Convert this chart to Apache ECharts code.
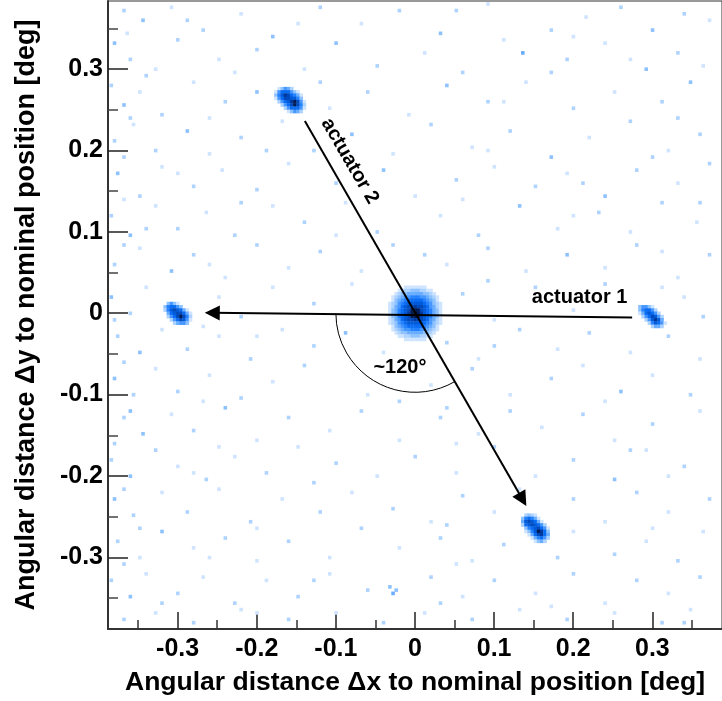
<!DOCTYPE html>
<html><head><meta charset="utf-8">
<script src="https://cdn.jsdelivr.net/npm/echarts@6/dist/echarts.min.js"></script>
<style>html,body{margin:0;padding:0;background:#fff}#c{width:722px;height:701px}</style>
</head><body><div id="c"></div>
<script>
// ---------- data ----------
const BIN = 0.004;                       // histogram bin width [deg]
const X_RANGE = [-0.388, 0.388];
const Y_RANGE = [-0.388, 0.3835];
const xMajorTicks = [-0.3, -0.2, -0.1, 0, 0.1, 0.2, 0.3];
const xMinorTicks = [-0.35, -0.25, -0.15, -0.05, 0.05, 0.15, 0.25, 0.35];
const yMajorTicks = [-0.3, -0.2, -0.1, 0, 0.1, 0.2, 0.3];
const yMinorTicks = [-0.35, -0.25, -0.15, -0.05, 0.05, 0.15, 0.25, 0.35];
const xTitle = 'Angular distance \u0394x to nominal position [deg]';
const yTitle = 'Angular distance \u0394y to nominal position [deg]';

// central (nominal) spot: counts, top-left cell at bin (-8, +8)
const centralOrigin = [-8, 8];
const centralSpot = [
  [0,0,0,0,0,1,1,1,1,1,1,1,0,0,0,0,0],
  [0,0,0,1,1,2,2,3,3,3,2,2,1,1,0,0,0],
  [0,0,1,2,3,4,5,6,7,6,5,4,3,2,1,0,0],
  [0,1,2,3,5,8,11,14,16,14,11,8,5,3,2,1,0],
  [0,1,3,5,10,16,23,28,30,28,23,16,10,5,3,1,0],
  [1,2,4,8,16,27,37,45,48,45,37,27,16,8,4,2,1],
  [1,2,5,11,23,37,52,65,70,65,52,37,23,11,5,2,1],
  [1,3,6,14,28,45,65,84,90,84,65,45,28,14,6,3,1],
  [1,3,7,16,30,48,70,90,100,90,70,48,30,16,7,3,1],
  [1,3,6,14,28,45,65,84,90,84,65,45,28,14,6,3,1],
  [1,2,5,11,23,37,52,65,70,65,52,37,23,11,5,2,1],
  [1,2,4,8,16,27,37,45,48,45,37,27,16,8,4,2,1],
  [0,1,3,5,10,16,23,28,30,28,23,16,10,5,3,1,0],
  [0,1,2,3,5,8,11,14,16,14,11,8,5,3,2,1,0],
  [0,0,1,2,3,4,5,6,7,6,5,4,3,2,1,0,0],
  [0,0,0,1,1,2,2,3,3,3,2,2,1,1,0,0,0],
  [0,0,0,0,0,1,1,1,1,1,1,1,0,0,0,0,0]
];

// left spot (~ -0.3, 0): top-left cell at bin (-79, +3)
const spotLeftOrigin = [-79, 3];
const spotLeft = [
  [0,4,8,4,1,0,0,0,0],
  [3,18,35,30,12,3,0,0,0],
  [2,18,42,55,45,22,5,1,0],
  [0,5,25,48,65,62,30,6,1],
  [0,2,10,30,62,88,55,14,2],
  [0,0,2,10,32,58,45,12,1],
  [0,0,0,2,6,12,10,3,0]
];
// right spot (~ 0.3, -0.005): top-left cell at bin (71, +2)
const spotRightOrigin = [71, 2];
const spotRight = [
  [4,12,8,3,1,0,0,0,0],
  [3,20,35,22,8,2,0,0,0],
  [1,6,26,42,32,12,2,0,0],
  [0,2,8,30,52,42,12,2,0],
  [0,0,2,10,42,72,38,6,0],
  [0,0,0,2,14,42,30,8,1],
  [0,0,0,0,2,6,6,2,0]
];
// upper spot (~ -0.16, 0.26): top-left cell at bin (-44, 69)
const spotUpperOrigin = [-44, 69];
const spotUpper = [
  [0,1,4,8,6,2,0,0,0,0],
  [1,8,25,35,28,12,4,1,0,0],
  [3,20,45,70,55,30,15,5,1,0],
  [1,10,35,55,60,50,38,18,4,0],
  [0,2,10,28,48,70,88,55,12,1],
  [0,0,2,10,28,55,85,60,15,2],
  [0,0,0,2,8,22,35,28,8,1],
  [0,0,0,0,1,4,8,5,2,0]
];
// lower spot (~ 0.155, -0.265): top-left cell at bin (34, -62)
const spotLowerOrigin = [34, -62];
const spotLower = [
  [0,2,4,2,1,0,0,0,0,0],
  [3,18,30,16,5,1,0,0,0,0],
  [6,40,60,45,22,6,1,0,0,0],
  [2,22,45,52,40,25,8,2,0,0],
  [0,4,15,35,50,58,35,10,1,0],
  [0,1,4,15,40,85,75,25,4,0],
  [0,0,1,5,22,65,70,30,5,0],
  [0,0,0,1,5,18,22,12,2,0],
  [0,0,0,0,1,3,5,2,0,0]
];

// sparse background cells [x, y, counts]
const noiseCells = [
  [-0.37,0.372,2],[-0.345,0.36,3],[-0.31,0.375,1],[-0.27,0.35,2],[-0.22,0.368,1],[-0.18,0.34,3],[-0.12,0.377,2],[-0.07,0.355,1],[-0.02,0.37,2],[0.03,0.345,3],[0.09,0.38,1],[0.17,0.35,2],[0.215,0.362,1],[0.26,0.375,2],[0.3,0.35,4],[0.34,0.367,2],[0.37,0.358,1],
  [-0.38,0.33,3],[-0.36,0.31,2],[-0.33,0.298,1],[-0.3,0.335,2],[-0.25,0.31,1],[-0.2,0.325,2],[-0.14,0.3,1],[-0.1,0.33,3],[-0.05,0.305,2],[0.01,0.32,1],[0.06,0.295,2],[0.11,0.335,1],[0.136,0.32,7],[0.19,0.31,2],[0.24,0.33,1],[0.29,0.3,3],[0.33,0.32,2],[0.365,0.305,1],
  [-0.385,0.28,2],[-0.37,0.255,3],[-0.35,0.27,1],[-0.32,0.245,2],[-0.28,0.285,1],[-0.24,0.26,2],[-0.2,0.27,3],[-0.12,0.283,2],[-0.11,0.25,1],[-0.06,0.27,2],[-0.01,0.245,1],[0.04,0.28,3],[0.09,0.26,2],[0.14,0.285,1],[0.2,0.25,2],[0.25,0.27,1],[0.31,0.26,2],[0.35,0.285,3],
  [-0.38,0.21,2],[-0.355,0.23,1],[-0.33,0.2,2],[-0.29,0.225,3],[-0.26,0.195,1],[-0.22,0.215,2],[-0.17,0.235,1],[-0.13,0.2,2],[-0.08,0.22,3],[-0.03,0.195,1],[0.02,0.23,2],[0.07,0.205,1],[0.12,0.225,2],[0.17,0.19,3],[0.22,0.215,1],[0.27,0.235,2],[0.32,0.2,1],[0.36,0.22,2],
  [-0.375,0.17,3],[-0.35,0.145,2],[-0.32,0.18,1],[-0.28,0.155,2],[-0.245,0.175,1],[-0.2,0.15,2],[-0.16,0.185,1],[-0.1,0.16,2],[-0.04,0.175,3],[0.0,0.145,1],[0.05,0.165,2],[0.1,0.18,1],[0.15,0.155,2],[0.19,0.17,1],[0.24,0.145,3],[0.28,0.175,2],[0.33,0.16,1],[0.37,0.185,2],
  [-0.385,0.12,2],[-0.36,0.095,3],[-0.33,0.13,1],[-0.3,0.105,2],[-0.265,0.125,1],[-0.23,0.095,2],[-0.18,0.13,1],[-0.14,0.11,2],[-0.09,0.135,1],[-0.05,0.1,2],[0.03,0.12,1],[0.08,0.095,2],[0.13,0.13,3],[0.18,0.105,1],[0.23,0.125,2],[0.27,0.1,1],[0.31,0.135,2],[0.355,0.11,1],
  [-0.38,0.06,2],[-0.35,0.08,1],[-0.31,0.05,3],[-0.28,0.07,2],[-0.24,0.045,1],[-0.2,0.085,2],[-0.16,0.055,1],[-0.12,0.075,2],[-0.07,0.05,1],[-0.03,0.085,2],[0.04,0.06,1],[0.09,0.08,2],[0.14,0.05,1],[0.19,0.07,3],[0.24,0.055,1],[0.28,0.085,2],[0.33,0.045,1],[0.37,0.07,2],
  [-0.385,0.02,3],[-0.36,0.0,2],[-0.34,0.03,1],[-0.25,0.02,1],[-0.22,-0.005,2],[-0.18,0.03,1],[-0.13,0.01,2],[-0.08,0.035,1],[0.06,0.025,2],[0.1,-0.008,1],[0.15,0.03,2],[0.2,0.005,1],[0.24,0.035,2],[0.34,0.02,1],[0.365,-0.005,2],
  [-0.375,-0.03,2],[-0.35,-0.05,3],[-0.32,-0.02,1],[-0.29,-0.045,2],[-0.25,-0.03,1],[-0.21,-0.055,2],[-0.17,-0.02,1],[-0.13,-0.04,2],[-0.09,-0.025,3],[-0.04,-0.05,1],[0.04,-0.035,2],[0.08,-0.055,1],[0.13,-0.02,2],[0.18,-0.045,1],[0.22,-0.025,2],[0.27,-0.05,1],[0.32,-0.03,2],[0.36,-0.055,1],
  [-0.38,-0.08,3],[-0.355,-0.1,2],[-0.33,-0.07,1],[-0.3,-0.095,2],[-0.26,-0.075,1],[-0.22,-0.105,2],[-0.18,-0.085,1],[-0.14,-0.065,2],[-0.06,-0.1,1],[-0.02,-0.11,2],[0.02,-0.09,1],[0.07,-0.07,2],[0.12,-0.1,1],[0.17,-0.08,2],[0.21,-0.065,1],[0.26,-0.095,3],[0.3,-0.075,1],[0.35,-0.1,2],
  [-0.37,-0.13,2],[-0.345,-0.15,4],[-0.31,-0.125,1],[-0.28,-0.145,2],[-0.24,-0.115,3],[-0.2,-0.155,1],[-0.16,-0.13,2],[-0.11,-0.145,1],[-0.07,-0.12,2],[-0.02,-0.155,1],[0.03,-0.13,2],[0.08,-0.15,1],[0.12,-0.12,2],[0.16,-0.14,1],[0.21,-0.125,2],[0.25,-0.155,1],[0.3,-0.135,2],[0.36,-0.12,1],
  [-0.385,-0.18,2],[-0.36,-0.2,3],[-0.33,-0.17,2],[-0.3,-0.19,1],[-0.265,-0.205,2],[-0.23,-0.175,1],[-0.19,-0.195,2],[-0.15,-0.165,1],[-0.1,-0.185,2],[-0.05,-0.2,1],[0.0,-0.175,2],[0.05,-0.195,1],[0.1,-0.165,2],[0.15,-0.2,1],[0.2,-0.18,2],[0.25,-0.205,3],[0.29,-0.17,1],[0.34,-0.19,2],
  [-0.38,-0.23,4],[-0.355,-0.25,2],[-0.32,-0.22,1],[-0.29,-0.245,2],[-0.25,-0.215,1],[-0.21,-0.255,2],[-0.17,-0.23,1],[-0.12,-0.245,2],[-0.08,-0.22,1],[-0.03,-0.24,2],[0.02,-0.255,1],[0.06,-0.225,2],[0.1,-0.245,1],[0.2,-0.23,2],[0.24,-0.255,1],[0.28,-0.22,2],[0.32,-0.245,1],[0.37,-0.23,2],
  [-0.375,-0.28,2],[-0.35,-0.3,1],[-0.32,-0.27,3],[-0.28,-0.29,1],[-0.24,-0.275,2],[-0.2,-0.305,1],[-0.16,-0.28,2],[-0.11,-0.3,1],[-0.07,-0.265,2],[-0.02,-0.29,1],[0.03,-0.275,2],[0.07,-0.305,1],[0.11,-0.285,2],[0.2,-0.27,1],[0.25,-0.295,2],[0.29,-0.28,1],[0.33,-0.305,2],[0.365,-0.27,1],
  [-0.385,-0.33,2],[-0.36,-0.35,3],[-0.34,-0.32,1],[-0.3,-0.345,2],[-0.27,-0.325,1],[-0.23,-0.355,2],[-0.19,-0.33,1],[-0.15,-0.35,2],[-0.11,-0.32,1],[-0.06,-0.34,2],[-0.032,-0.336,4],[-0.028,-0.344,5],[-0.024,-0.34,3],[0.02,-0.325,2],[0.06,-0.35,1],[0.1,-0.33,2],[0.15,-0.345,1],[0.2,-0.32,2],[0.24,-0.355,1],[0.28,-0.33,2],[0.32,-0.345,1],[0.36,-0.325,2],
  [-0.37,-0.375,2],[-0.33,-0.37,1],[-0.28,-0.38,2],[-0.22,-0.365,1],[-0.16,-0.378,2],[-0.1,-0.37,1],[-0.04,-0.38,2],[0.01,-0.368,1],[0.07,-0.378,2],[0.13,-0.365,1],[0.19,-0.375,2],[0.25,-0.37,1],[0.31,-0.38,2],[0.35,-0.366,1],
  [-0.365,0.345,1],[-0.29,0.36,2],[-0.15,0.355,1],[0.05,0.372,2],[0.2,0.34,1],[-0.34,0.29,2],[-0.23,0.295,1],[0.17,0.295,2],[0.27,0.31,1],[-0.36,0.24,2],[-0.26,0.24,1],[0.11,0.26,1],[0.33,0.24,2],
  [-0.37,0.19,2],[-0.3,0.17,1],[-0.19,0.2,2],[0.09,0.2,1],[0.3,0.19,2],[-0.37,0.14,1],[-0.22,0.135,2],[0.06,0.14,1],[0.21,0.16,2],[-0.34,0.105,2],[-0.1,0.095,1],[0.2,0.12,1],[0.36,0.135,2],
  [-0.37,0.085,2],[-0.26,0.06,1],[0.01,0.07,2],[0.31,0.075,1],[-0.38,-0.01,2],[-0.27,-0.015,1],[0.09,0.04,2],[0.31,0.03,1],[-0.37,-0.06,2],[-0.2,-0.03,1],[0.1,-0.04,2],[-0.36,-0.12,3],[-0.27,-0.11,1],[0.04,-0.115,2],[0.24,-0.11,1],
  [-0.38,-0.16,2],[-0.25,-0.165,1],[0.05,-0.16,1],[0.27,-0.17,2],[-0.37,-0.215,2],[-0.28,-0.195,1],[-0.13,-0.21,2],[0.13,-0.215,1],[0.32,-0.2,1],[-0.35,-0.265,2],[-0.2,-0.265,1],[0.04,-0.26,2],[0.3,-0.265,1],
  [-0.37,-0.31,2],[-0.26,-0.3,1],[-0.13,-0.33,2],[0.05,-0.31,1],[0.18,-0.3,2],[-0.32,-0.355,2],[-0.2,-0.37,1],[0.03,-0.355,2],[0.17,-0.36,1],[0.34,-0.38,2]
];

// annotations (data coordinates)
const actuator1Line = [[0.2744, -0.0053], [-0.2562, 0.0004]];
const actuator2Line = [[-0.1392, 0.236], [0.1360, -0.2288]];
const actuator1Label = {text: 'actuator 1', pos: [0.208, 0.0192]};
const actuator2Label = {text: 'actuator 2', pos: [-0.0823, 0.1868]};
const angleLabel = {text: '~120\u00b0', pos: [-0.019, -0.0665]};
const angleArc = {center: [0, 0], radius: 0.1, fromDeg: 59.8, toDeg: 180};

// ---------- build cells ----------
const cells = [];
function addMatrix(origin, m) {
  m.forEach((row, r) => row.forEach((v, c) => {
    if (v > 0) cells.push([(origin[0] + c) * BIN, (origin[1] - r) * BIN, v]);
  }));
}
addMatrix(centralOrigin, centralSpot);
addMatrix(spotLeftOrigin, spotLeft);
addMatrix(spotRightOrigin, spotRight);
addMatrix(spotUpperOrigin, spotUpper);
addMatrix(spotLowerOrigin, spotLower);
noiseCells.forEach(p => cells.push([Math.round(p[0] / BIN) * BIN, Math.round(p[1] / BIN) * BIN, p[2]]));

const FONT = '"Liberation Sans", Arial, Helvetica, sans-serif';
const chart = echarts.init(document.getElementById('c'), null, {renderer: 'canvas'});

function renderCell(params, api) {
  const x = api.value(0), y = api.value(1);
  const p0 = api.coord([x - BIN / 2, y + BIN / 2]);
  const p1 = api.coord([x + BIN / 2, y - BIN / 2]);
  return {
    type: 'rect',
    shape: {x: p0[0], y: p0[1], width: p1[0] - p0[0] + 0.4, height: p1[1] - p0[1] + 0.4},
    style: {fill: api.visual('color')}
  };
}

const fmt = v => (Math.abs(v) < 1e-9 ? '0' : v.toFixed(1));

const option = {
  animation: false,
  backgroundColor: '#fff',
  grid: {left: 108, right: -10, top: 1, bottom: 69, show: true, borderColor: '#333', borderWidth: 1, backgroundColor: 'transparent'},
  visualMap: {
    type: 'piecewise', show: false, dimension: 2, seriesIndex: 0,
    pieces: [
      {min: 0.5, max: 1.5, color: '#cfe4ff'},
      {min: 1.5, max: 2.5, color: '#aed3ff'},
      {min: 2.5, max: 4.5, color: '#8dc2ff'},
      {min: 4.5, max: 7.5, color: '#68adff'},
      {min: 7.5, max: 12.5, color: '#4596ff'},
      {min: 12.5, max: 20.5, color: '#2481ff'},
      {min: 20.5, max: 35.5, color: '#0a6cf2'},
      {min: 35.5, max: 50.5, color: '#005ad8'},
      {min: 50.5, max: 65.5, color: '#0049bb'},
      {min: 65.5, max: 80.5, color: '#00379a'},
      {min: 80.5, max: 90.5, color: '#001a55'},
      {min: 90.5, max: 1000, color: '#030a1c'}
    ]
  },
  xAxis: [
    {
      type: 'value', min: X_RANGE[0], max: X_RANGE[1], position: 'bottom',
      axisLine: {show: true, onZero: false, lineStyle: {color: '#333', width: 2}},
      axisTick: {show: true, inside: true, length: 17, customValues: xMajorTicks, lineStyle: {color: '#222', width: 1.5}},
      axisLabel: {show: true, customValues: xMajorTicks, formatter: fmt, margin: 8, color: '#000', fontSize: 25, fontWeight: 'bold', fontFamily: FONT},
      splitLine: {show: false},
      name: xTitle, nameLocation: 'middle', nameGap: 40,
      nameTextStyle: {color: '#000', fontSize: 26.5, fontWeight: 'bold', fontFamily: FONT}
    },
    {
      type: 'value', min: X_RANGE[0], max: X_RANGE[1], position: 'bottom',
      axisLine: {show: false, onZero: false}, axisLabel: {show: false}, splitLine: {show: false},
      axisTick: {show: true, inside: true, length: 9, customValues: xMinorTicks, lineStyle: {color: '#333', width: 1.5}}
    }
  ],
  yAxis: [
    {
      type: 'value', min: Y_RANGE[0], max: Y_RANGE[1], position: 'left',
      axisLine: {show: true, onZero: false, lineStyle: {color: '#333', width: 2}},
      axisTick: {show: true, inside: true, length: 20, customValues: yMajorTicks, lineStyle: {color: '#222', width: 1.5}},
      axisLabel: {show: true, customValues: yMajorTicks, formatter: fmt, margin: 5, color: '#000', fontSize: 25, fontWeight: 'bold', fontFamily: FONT},
      splitLine: {show: false},
      name: yTitle, nameLocation: 'middle', nameGap: 68, nameRotate: 90,
      nameTextStyle: {color: '#000', fontSize: 27, fontWeight: 'bold', fontFamily: FONT}
    },
    {
      type: 'value', min: Y_RANGE[0], max: Y_RANGE[1], position: 'left',
      axisLine: {show: false, onZero: false}, axisLabel: {show: false}, splitLine: {show: false},
      axisTick: {show: true, inside: true, length: 10, customValues: yMinorTicks, lineStyle: {color: '#444', width: 1.5}}
    }
  ],
  series: [
    {
      type: 'custom', xAxisIndex: 0, yAxisIndex: 0, clip: true,
      renderItem: renderCell, encode: {x: 0, y: 1}, data: cells, z: 2
    },
    {
      type: 'lines', coordinateSystem: 'cartesian2d', xAxisIndex: 0, yAxisIndex: 0, z: 5,
      symbol: ['none', 'triangle'], symbolSize: 15,
      lineStyle: {color: '#000', width: 2, opacity: 1, curveness: 0},
      itemStyle: {color: '#000'},
      data: [{coords: actuator1Line}, {coords: actuator2Line}]
    }
  ]
};
chart.setOption(option);

const P = p => chart.convertToPixel({xAxisIndex: 0, yAxisIndex: 0}, p);
const c0 = P(angleArc.center);
const rEdge = P([angleArc.center[0] + angleArc.radius, angleArc.center[1]]);
const rPx = Math.abs(rEdge[0] - c0[0]);
const lab1 = P(actuator1Label.pos), lab2 = P(actuator2Label.pos), lab3 = P(angleLabel.pos);
chart.setOption({
  graphic: [
    {type: 'arc', z: 10, shape: {cx: c0[0], cy: c0[1], r: rPx, startAngle: angleArc.fromDeg * Math.PI / 180, endAngle: angleArc.toDeg * Math.PI / 180, clockwise: true},
     style: {stroke: '#000', lineWidth: 1, fill: null}},
    {type: 'text', z: 10, x: lab1[0], y: lab1[1], style: {text: actuator1Label.text, font: 'bold 20px ' + FONT, fill: '#000', align: 'center', verticalAlign: 'middle'}},
    {type: 'text', z: 10, x: lab2[0], y: lab2[1], rotation: -59.8 * Math.PI / 180, style: {text: actuator2Label.text, font: 'bold 20px ' + FONT, fill: '#000', align: 'center', verticalAlign: 'middle'}},
    {type: 'text', z: 10, x: lab3[0], y: lab3[1], style: {text: angleLabel.text, font: 'bold 20px ' + FONT, fill: '#000', align: 'center', verticalAlign: 'middle'}}
  ]
});
</script>
</body></html>
